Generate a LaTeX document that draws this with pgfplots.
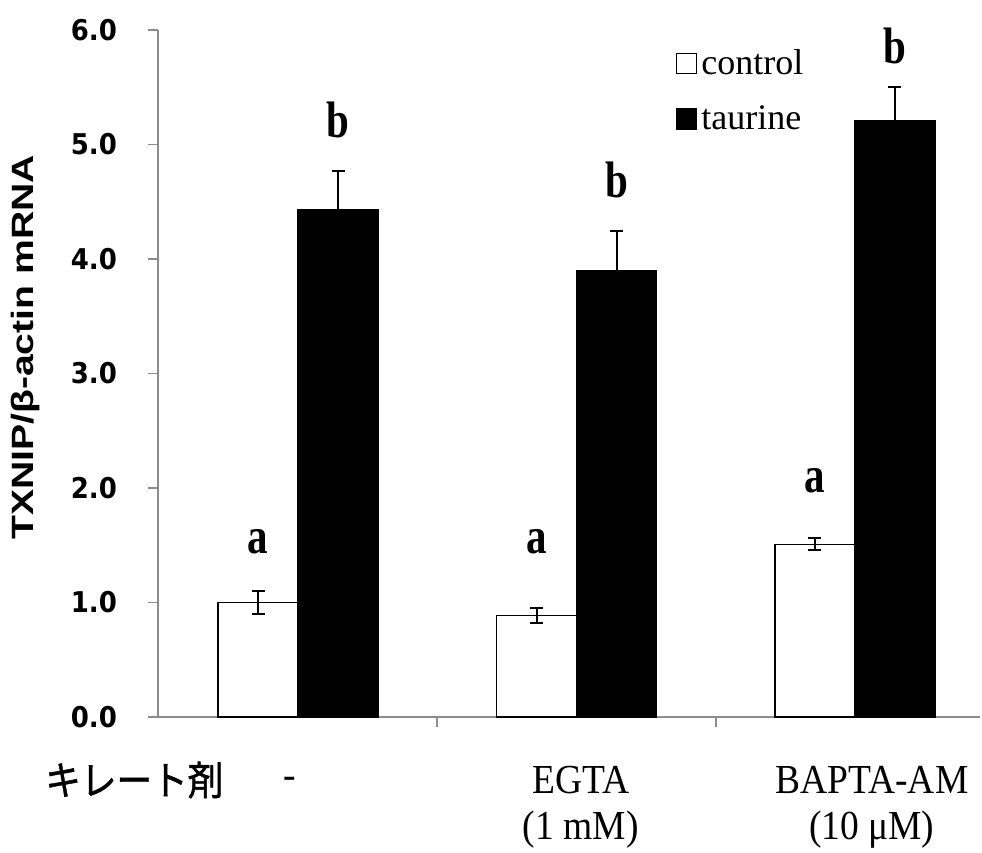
\documentclass[border=0pt]{standalone}
\usepackage{pgfplots}
\pgfplotsset{compat=1.18}
\usepackage{fontspec}
\setmainfont{Liberation Serif}
\newfontfamily\dvs{DejaVu Sans}
\newfontfamily\arial{Liberation Sans}
\newfontfamily\cjk{Noto Sans CJK JP}[FakeBold=1.2]
\definecolor{axgray}{RGB}{140,140,140}
\newcommand{\lt}[1]{\scalebox{1}[1.25]{\fontsize{20.5}{24}\selectfont\bfseries #1}}
\newcommand{\bt}[1]{\scalebox{1}[1.1]{\fontsize{18.75}{21}\selectfont #1}}
\begin{document}
\begin{tikzpicture}
\begin{axis}[name=ax, scale only axis, width=411pt, height=343.5pt,
  xmin=0.497, xmax=3.449, ymin=0, ymax=6,
  axis lines=left, axis line style={-, draw=axgray, line width=0.8pt},
  ytick={0,1,...,6}, xtick={1.5,2.5}, xticklabels={},
  tick align=outside, major tick length=5pt,
  tick style={draw=axgray, line width=0.8pt},
  /pgf/number format/assume math mode=true,
  yticklabel style={font=\dvs\bfseries\fontsize{13}{15}\selectfont, xshift=-12pt,
    /pgf/number format/fixed, /pgf/number format/fixed zerofill, /pgf/number format/precision=1},
  yticklabel={\scalebox{1.0}[1.1]{\pgfmathprintnumber{\tick}}},
  ybar, bar width=40pt,
  clip=false,
  legend style={draw=none, fill=none, at={(rel axis cs:0.630,0.978)}, anchor=north west,
    font=\fontsize{18}{20}\selectfont, row sep=10pt, inner sep=0pt, nodes={inner sep=2pt}},
  legend cell align=left,
]
\addplot[fill=white, draw=black, line width=0.6pt, bar shift=-20pt,
  legend image code/.code={\draw[fill=white,draw=black,line width=0.6pt] (0pt,-5pt) rectangle (10pt,5pt);},
  error bars/.cd, y dir=both, y explicit,
  error bar style={line width=1pt, black},
  error mark options={rotate=90, line width=1pt, mark size=3.25pt, black}]
  coordinates {(1,1.00) +- (0,0.10) (2,0.89) +- (0,0.065) (3,1.51) +- (0,0.05)};
\addlegendentry{control}
\addplot[fill=black, draw=black, line width=0.6pt, bar shift=20pt,
  legend image code/.code={\draw[fill=black,draw=black,line width=0.6pt] (0pt,-5pt) rectangle (10pt,5pt);},
  error bars/.cd, y dir=both, y explicit,
  error bar style={line width=1pt, black},
  error mark options={rotate=90, line width=1pt, mark size=3.25pt, black}]
  coordinates {(1,4.43) +- (0,0.34) (2,3.895) +- (0,0.35) (3,5.21) +- (0,0.295)};
\addlegendentry{taurine}
% significance letters
\node[anchor=base, xshift=-20pt] at (axis cs:1,1.432) {\lt{a}};
\node[anchor=base, xshift=-20pt] at (axis cs:2,1.432) {\lt{a}};
\node[anchor=base, xshift=-20pt] at (axis cs:3,1.965) {\lt{a}};
\node[anchor=base, xshift=20pt] at (axis cs:1,5.057) {\lt{b}};
\node[anchor=base, xshift=20pt] at (axis cs:2,4.54) {\lt{b}};
\node[anchor=base, xshift=20pt] at (axis cs:3,5.71) {\lt{b}};
% bottom labels
\node[anchor=base, inner sep=0pt] at (axis cs:0.412,-0.681) {\scalebox{1}[1.12]{\cjk\fontsize{17.8}{20}\selectfont キレート剤}};
\node[anchor=base, inner sep=0pt] at (axis cs:0.971,-0.62) {\bt{-}};
\node[anchor=base, inner sep=0pt] at (axis cs:2.015,-0.672) {\bt{EGTA}};
\node[anchor=base, inner sep=0pt] at (axis cs:2.015,-1.066) {\bt{(1 mM)}};
\node[anchor=base, inner sep=0pt] at (axis cs:3.061,-0.672) {\bt{BAPTA-AM}};
\node[anchor=base, inner sep=0pt] at (axis cs:3.06,-1.066) {\bt{(10 μM)}};
% y label
\node[rotate=90, anchor=center] at (rel axis cs:-0.1606,0.538) {\scalebox{1.27}[1]{\arial\bfseries\fontsize{15.4}{18}\selectfont TXNIP/β-actin mRNA}};
\end{axis}
\pgfresetboundingbox
\path ([xshift=-79pt,yshift=-67.5pt]ax.south west) rectangle ([xshift=1pt,yshift=15pt]ax.north east);
\end{tikzpicture}
\end{document}
